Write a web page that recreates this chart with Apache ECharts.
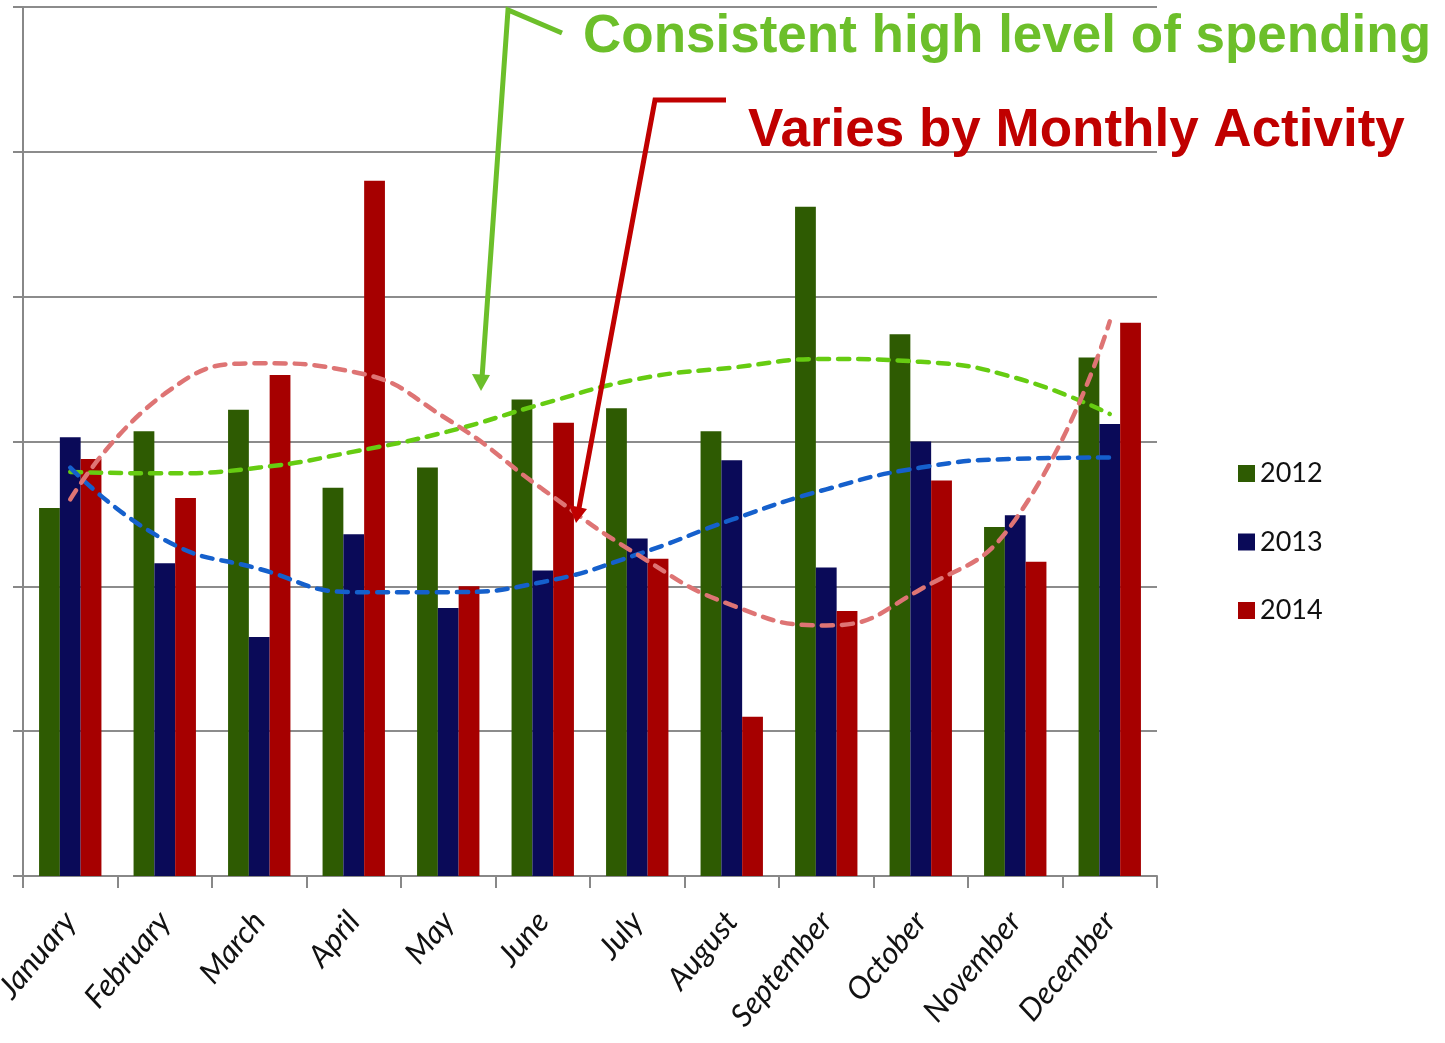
<!DOCTYPE html>
<html>
<head>
<meta charset="utf-8">
<script src="https://cdn.jsdelivr.net/npm/echarts@6/dist/echarts.min.js"></script>
<style>
  html, body { margin: 0; padding: 0; background: #fff; }
  #main { width: 1445px; height: 1043px; }
</style>
</head>
<body>
<div id="main"></div>
<script>
  // months on the x axis
  var months = ['January', 'February', 'March', 'April', 'May', 'June',
    'July', 'August', 'September', 'October', 'November', 'December']

  // bar values (grid units, 0..6)
  var spend2012 = [2.54, 3.07, 3.22, 2.68, 2.82, 3.29, 3.23, 3.07, 4.62, 3.74, 2.41, 3.58]
  var spend2013 = [3.03, 2.16, 1.65, 2.36, 1.85, 2.11, 2.33, 2.87, 2.13, 3.00, 2.49, 3.12]
  var spend2014 = [2.88, 2.61, 3.46, 4.80, 2.00, 3.13, 2.19, 1.10, 1.83, 2.73, 2.17, 3.82]

  // dashed trend curves
  var trend2012 = [2.79, 2.78, 2.82, 2.93, 3.07, 3.26, 3.43, 3.51, 3.57, 3.55, 3.44, 3.19]
  var trend2013 = [2.82, 2.32, 2.12, 1.96, 1.96, 2.03, 2.22, 2.46, 2.67, 2.82, 2.88, 2.89]
  var trend2014 = [2.60, 3.33, 3.54, 3.48, 3.15, 2.67, 2.22, 1.87, 1.73, 1.98, 2.46, 3.83]

  var years = ['2012', '2013', '2014']

  var chart = echarts.init(document.getElementById('main'))

  //柱子
  function barSeries(name, data, color){
    return {
      name: name,
      type: 'bar',
      data: data,
      barGap: '0%',
      barCategoryGap: '34%',
      itemStyle: { color: color },
      z: 2
    }
  }

  //趋势虚线
  function trendSeries(name, data, color){
    return {
      name: name,
      type: 'line',
      data: data,
      smooth: 0.5,
      symbol: 'none',
      lineStyle: { color: color, width: 4.5, type: [11, 9], cap: 'round' },
      z: 5
    }
  }

  var option = {
    backgroundColor: '#fff',
    animation: false,
    grid: { left: 23, right: 288, top: 7, bottom: 167, containLabel: false, outerBoundsMode: 'none' },
    legend: {
      data: years,
      orient: 'vertical',
      left: 1233,
      top: 455,
      itemWidth: 17,
      itemHeight: 17,
      itemGap: 41.5,
      icon: 'rect',
      textStyle: {
        fontFamily: "'Liberation Sans Narrow', 'Lato', sans-serif",
        fontSize: 27,
        color: '#111'
      }
    },
    xAxis: {
      type: 'category',
      data: months,
      axisLine: { lineStyle: { color: '#888', width: 2 } },
      axisTick: { show: true, length: 12, lineStyle: { color: '#888', width: 2 } },
      axisLabel: {
        rotate: 50,
        interval: 0,
        margin: 40,
        fontFamily: 'Lato, sans-serif',
        fontStyle: 'italic',
        fontSize: 31,
        color: '#111'
      }
    },
    yAxis: {
      type: 'value',
      min: 0,
      max: 6,
      interval: 1,
      axisLine: { show: true, lineStyle: { color: '#888', width: 2 } },
      axisTick: { show: true, length: 10, lineStyle: { color: '#888', width: 2 } },
      axisLabel: { show: false },
      splitLine: { lineStyle: { color: '#8c8c8c', width: 2 } }
    },
    series: [
      barSeries('2012', spend2012, '#2e5b02'),
      barSeries('2013', spend2013, '#0a0a58'),
      barSeries('2014', spend2014, '#a60000'),
      trendSeries('t2012', trend2012, '#66cc11'),
      trendSeries('t2013', trend2013, '#1560cc'),
      trendSeries('t2014', trend2014, '#de7474')
    ],
    graphic: [
      //绿色标注线
      {
        type: 'polyline', z: 20,
        shape: { points: [[562, 33], [508, 10], [482, 378]] },
        style: { stroke: '#6cbf2a', lineWidth: 5, fill: null }
      },
      {
        type: 'polygon', z: 20,
        shape: { points: [[472, 374], [490, 375], [481, 391]] },
        style: { fill: '#6cbf2a' }
      },
      //红色标注线
      {
        type: 'polyline', z: 20,
        shape: { points: [[726, 100], [655, 100], [579, 508]] },
        style: { stroke: '#c00000', lineWidth: 5, fill: null }
      },
      {
        type: 'polygon', z: 20,
        shape: { points: [[569, 505], [587, 509], [576, 523]] },
        style: { fill: '#c00000' }
      },
      {
        type: 'text', z: 20, left: 583, top: 11,
        style: {
          text: 'Consistent high level of spending',
          fill: '#6cbf2a',
          font: "bold 53px 'Liberation Sans', Arial, sans-serif"
        }
      },
      {
        type: 'text', z: 20, left: 748, top: 105,
        style: {
          text: 'Varies by Monthly Activity',
          fill: '#c00000',
          font: "bold 53px 'Liberation Sans', Arial, sans-serif"
        }
      }
    ]
  }

  chart.setOption(option)
</script>
</body>
</html>
